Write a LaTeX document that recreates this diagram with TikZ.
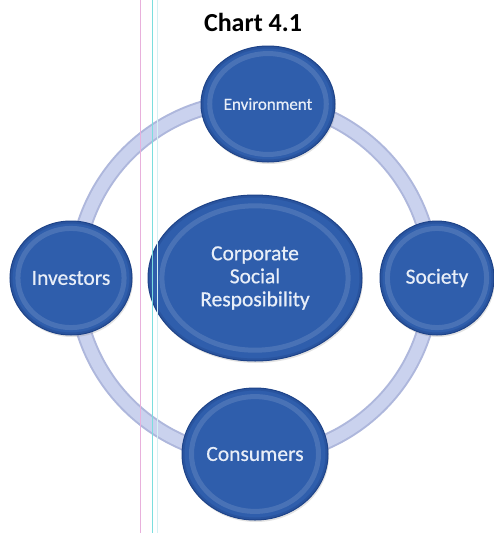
\documentclass[tikz,border=0pt]{standalone}
\usepackage{fontspec}
\setmainfont{Carlito}
\newfontfamily\ballfont[FakeBold=0.6]{Carlito}
\usetikzlibrary{shapes.geometric,calc,shadows}
\definecolor{ballblue}{HTML}{2F5EAC}
\definecolor{balledge}{HTML}{1E4388}
\definecolor{balltext}{HTML}{E8EEF8}
\definecolor{ringfill}{HTML}{CAD2EE}
\definecolor{ringedge}{HTML}{AEB7DC}
\definecolor{guidepink}{HTML}{E8B0DC}
\definecolor{guidecyan}{HTML}{7ADEDE}
\definecolor{guidepale}{HTML}{D4F1F5}
\begin{document}
\begin{tikzpicture}[x=1pt,y=-1pt,
  bubble/.style={ellipse, inner sep=0pt, fill=ballblue, draw=balledge, line width=1pt,
    text=balltext, align=center,
    drop shadow={opacity=0.22, shadow xshift=1pt, shadow yshift=-2pt},
    path picture={
      \draw[white, opacity=0.13, line width=5pt]
        let \p1=($(path picture bounding box.north east)-(path picture bounding box.center)$) in
        (path picture bounding box.center) ellipse [x radius=0.87*\x1, y radius=0.87*\y1];
      \draw[balledge, opacity=0.35, line width=3pt]
        let \p1=($(path picture bounding box.north east)-(path picture bounding box.center)$) in
        (path picture bounding box.center) ellipse [x radius=\x1-1pt, y radius=\y1-1pt];
    }},
  lbl/.style={font=\ballfont\fontsize{21.5}{23}\selectfont},
  guide/.style={line width=1pt}]
\useasboundingbox (0,0) rectangle (494,533);
\fill[white] (0,0) rectangle (494,533);
\coordinate (c) at (254,279);
% ring
\draw[ringedge, line width=16pt] (c) circle [radius=178pt];
\draw[ringfill, line width=12pt] (c) circle [radius=178pt];
% title
\node[font=\bfseries\fontsize{26}{28}\selectfont, text=black] (title) at (253,22) {Chart 4.1};
% nodes
\node[bubble, minimum width=134pt, minimum height=116pt, font=\ballfont\fontsize{17}{20}\selectfont] (env) at (268,104) {Environment};
\node[bubble, lbl, minimum width=122pt, minimum height=114pt] (inv) at (71,278) {Investors};
\node[bubble, lbl, minimum width=114pt, minimum height=114pt] (soc) at (437,278) {Society};
\node[bubble, lbl, minimum width=146pt, minimum height=132pt] (con) at (255,454) {Consumers};
\node[bubble, lbl, minimum width=214pt, minimum height=166pt] (csr) at (255,278) {Corporate\\Social\\Resposibility};
% scan guide lines
\draw[guide, guidepink] (140,0) -- (140,533);
\draw[guide, guidecyan] (152,0) -- (152,533);
\draw[guide, guidepale] (157,0) -- (157,533);
\end{tikzpicture}
\end{document}
